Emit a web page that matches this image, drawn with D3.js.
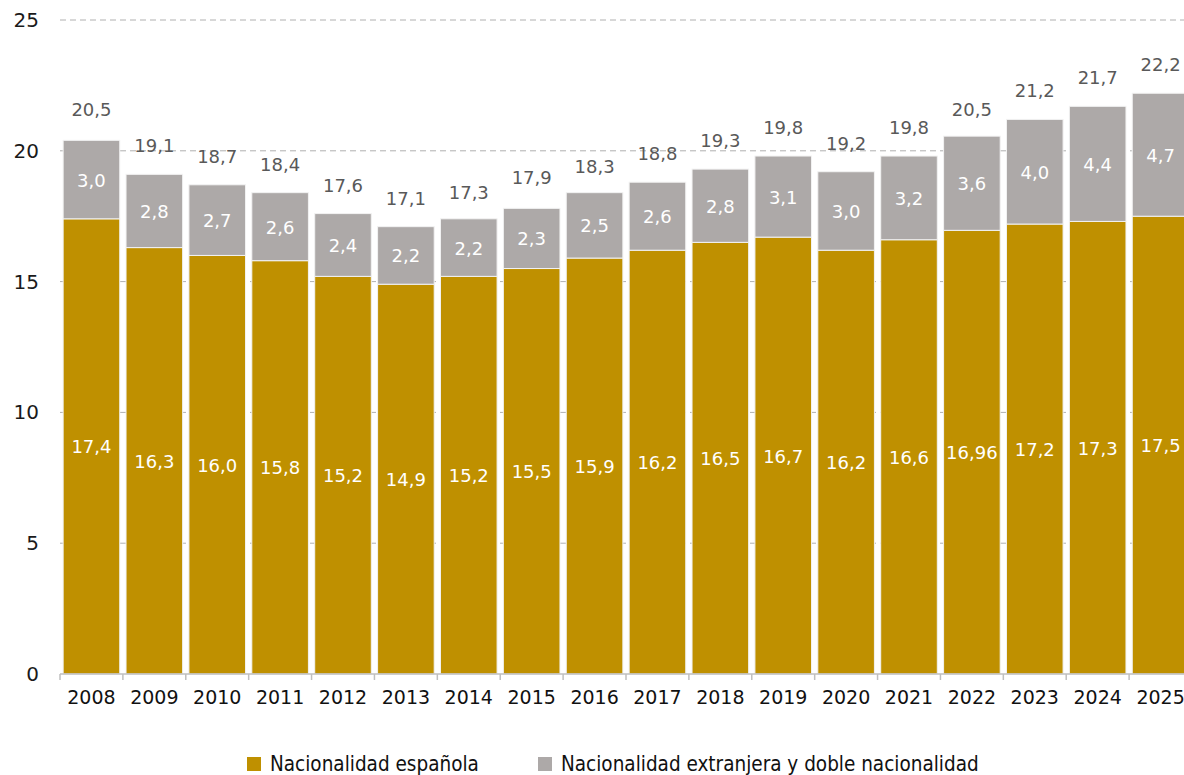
<!DOCTYPE html>
<html>
<head>
<meta charset="utf-8">
<script src="https://cdn.jsdelivr.net/npm/d3@7"></script>
<style>
  body { margin: 0; background: #fff; }
  svg { display: block; font-family: "DejaVu Sans", sans-serif; }
</style>
</head>
<body>
<div id="chart"></div>
<script>
// Data
const years = ["2008","2009","2010","2011","2012","2013","2014","2015","2016","2017","2018","2019","2020","2021","2022","2023","2024","2025"];
const espanola = [17.4,16.3,16.0,15.8,15.2,14.9,15.2,15.5,15.9,16.2,16.5,16.7,16.2,16.6,16.96,17.2,17.3,17.5];
const extranjera = [3.0,2.8,2.7,2.6,2.4,2.2,2.2,2.3,2.5,2.6,2.8,3.1,3.0,3.2,3.6,4.0,4.4,4.7];
const totals = [20.5,19.1,18.7,18.4,17.6,17.1,17.3,17.9,18.3,18.8,19.3,19.8,19.2,19.8,20.5,21.2,21.7,22.2];
const yTicks = [0,5,10,15,20,25];
const seriesNames = ["Nacionalidad española", "Nacionalidad extranjera y doble nacionalidad"];
const colors = ["#BF9000", "#ADA9A8"];

const W = 1184, H = 775;
const margin = { top: 20, right: 0, bottom: 101, left: 60 };

const svg = d3.select("#chart").append("svg")
  .attr("width", W)
  .attr("height", H);

const x = d3.scaleBand()
  .domain(years)
  .range([margin.left, 1192])
  .paddingInner(0.1)
  .paddingOuter(0.05);

const y = d3.scaleLinear()
  .domain([0, 25])
  .range([H - margin.bottom, margin.top]);

// one decimal unless the value has two (16,96)
function fmt(v) {
  const two = Math.round(v * 100);
  const s = (two % 10 !== 0) ? v.toFixed(2) : v.toFixed(1);
  return s.replace(".", ",");
}

// dashed gridlines
svg.selectAll("line.grid")
  .data(yTicks.filter(d => d > 0))
  .enter().append("line")
  .attr("class", "grid")
  .attr("x1", margin.left)
  .attr("x2", W)
  .attr("y1", d => y(d))
  .attr("y2", d => y(d))
  .style("stroke", "#B0B0B0")
  .style("stroke-width", 1)
  .style("stroke-dasharray", "6 4");

// y labels
svg.selectAll("text.ylab")
  .data(yTicks)
  .enter().append("text")
  .attr("class", "ylab")
  .attr("x", 39)
  .attr("y", d => y(d) + 7)
  .attr("text-anchor", "end")
  .style("font-size", "20px")
  .style("fill", "#1a1a1a")
  .text(d => d);

// stacked data
const rows = years.map((yr, i) => ({ year: yr, esp: espanola[i], ext: extranjera[i], total: totals[i] }));
const stack = d3.stack().keys(["esp", "ext"])(rows);

const layers = svg.selectAll("g.layer")
  .data(stack)
  .enter().append("g")
  .attr("class", "layer")
  .attr("fill", (d, i) => colors[i]);

layers.selectAll("rect")
  .data(d => d)
  .enter().append("rect")
  .attr("x", d => x(d.data.year))
  .attr("width", x.bandwidth())
  .attr("y", d => y(d[1]))
  .attr("height", d => y(d[0]) - y(d[1]))
  .style("stroke", "#f2f2f2")
  .style("stroke-width", 1);

// labels inside segments
layers.selectAll("text")
  .data(d => d.map(s => ({ s: s, key: d.key })))
  .enter().append("text")
  .attr("x", d => x(d.s.data.year) + x.bandwidth() / 2)
  .attr("y", d => (y(d.s[0]) + y(d.s[1])) / 2 + 7)
  .attr("text-anchor", "middle")
  .style("font-size", "18px")
  .style("fill", "#fff")
  .text(d => fmt(d.s.data[d.key]));

// totals above bars
svg.selectAll("text.total")
  .data(rows)
  .enter().append("text")
  .attr("class", "total")
  .attr("x", d => x(d.year) + x.bandwidth() / 2)
  .attr("y", d => y(d.total) - 22)
  .attr("text-anchor", "middle")
  .style("font-size", "18px")
  .style("fill", "#595959")
  .text(d => fmt(d.total));

// x axis
const xAxis = d3.axisBottom(x).tickSize(0).tickPadding(17);
const gx = svg.append("g")
  .attr("transform", "translate(0," + y(0) + ")")
  .call(xAxis);
gx.select(".domain").remove();
gx.selectAll("text")
  .style("font-size", "19px")
  .style("font-family", "DejaVu Sans, sans-serif")
  .style("fill", "#111");

svg.append("line")
  .attr("x1", margin.left)
  .attr("x2", W)
  .attr("y1", y(0))
  .attr("y2", y(0))
  .style("stroke", "#BFBFBF")
  .style("stroke-width", 1.5);

const gap = x.step() * x.paddingInner() / 2;
svg.selectAll("line.xtick")
  .data(years)
  .enter().append("line")
  .attr("class", "xtick")
  .attr("x1", d => x(d) - gap)
  .attr("x2", d => x(d) - gap)
  .attr("y1", y(0))
  .attr("y2", y(0) + 6)
  .style("stroke", "#BFBFBF")
  .style("stroke-width", 1.5);

// legend
const legendX = [247, 538];
const legend = svg.selectAll("g.legend")
  .data(seriesNames)
  .enter().append("g")
  .attr("class", "legend")
  .attr("transform", (d, i) => "translate(" + legendX[i] + ",757)");

legend.append("rect")
  .attr("width", 14)
  .attr("height", 14)
  .attr("fill", (d, i) => colors[i]);

legend.append("text")
  .attr("x", 23)
  .attr("y", 14)
  .style("font-size", "20.5px")
  .style("font-family", "DejaVu Sans Condensed, sans-serif")
  .style("fill", "#111")
  .text(d => d);
</script>
</body>
</html>
